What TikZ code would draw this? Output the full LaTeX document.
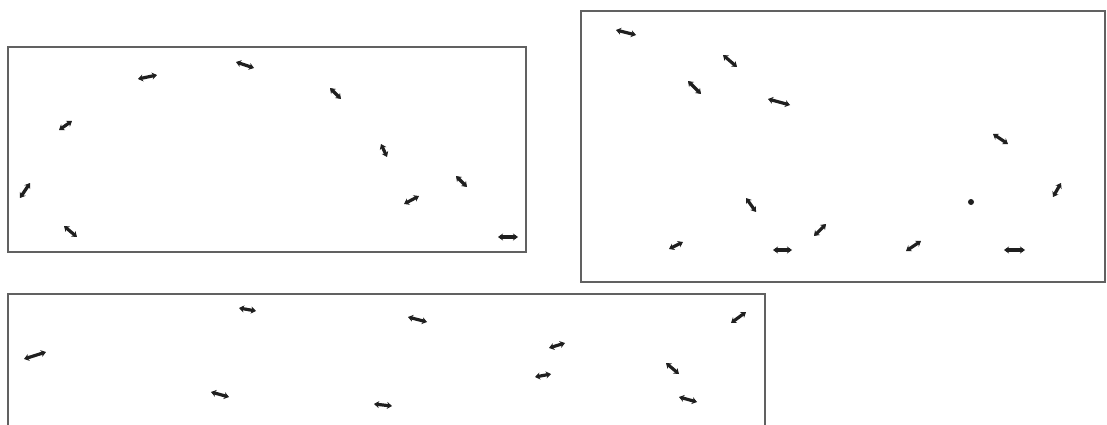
\documentclass[tikz,border=0pt]{standalone}
\usepackage{tikz}
\usetikzlibrary{arrows.meta}

\begin{document}
\begin{tikzpicture}[x=1pt, y=-1pt,
    panel/.style={draw=black!62, line width=2.4pt},
    ant/.style={black!88, line width=3.2pt, line cap=round,
                {Stealth[length=5pt,width=7pt]}-{Stealth[length=5pt,width=7pt]}}]
    \useasboundingbox (0,0) rectangle (1107,425);
    \clip (0,0) rectangle (1107,425);
    % boxes
    \draw[panel] (8,47) rectangle (526,252);
    \draw[panel] (581,11) rectangle (1105,282);
    \draw[panel] (8,294) rectangle (765,430);
    % top left box
    \foreach \xa/\ya/\xb/\yb in {138/79/157/75, 236/62/254/68, 59/130/72/121,
        20/198/30/183, 64/226/77/237, 330/88/341/99, 381/144/387/157,
        456/176/467/187, 404/204/419/196, 498/237/518/237}
      \draw[ant] (\xa,\ya) -- (\xb,\yb);
    % top right box
    \foreach \xa/\ya/\xb/\yb in {616/30/636/35, 723/55/737/67, 688/81/701/94,
        768/99/790/105, 746/198/756/212, 814/236/826/224, 669/249/683/242,
        773/250/792/250, 993/134/1008/144, 1053/197/1061/183,
        906/251/921/241, 1004/250/1025/250}
      \draw[ant] (\xa,\ya) -- (\xb,\yb);
    \fill[black!88] (971,202) circle (3pt);
    % bottom box
    \foreach \xa/\ya/\xb/\yb in {239/308/256/311, 24/359/46/352, 211/392/229/397,
        374/404/392/406, 408/317/427/322, 549/348/565/343, 535/377/551/374,
        731/323/746/312, 666/363/679/374, 679/397/697/402}
      \draw[ant] (\xa,\ya) -- (\xb,\yb);
\end{tikzpicture}
\end{document}
